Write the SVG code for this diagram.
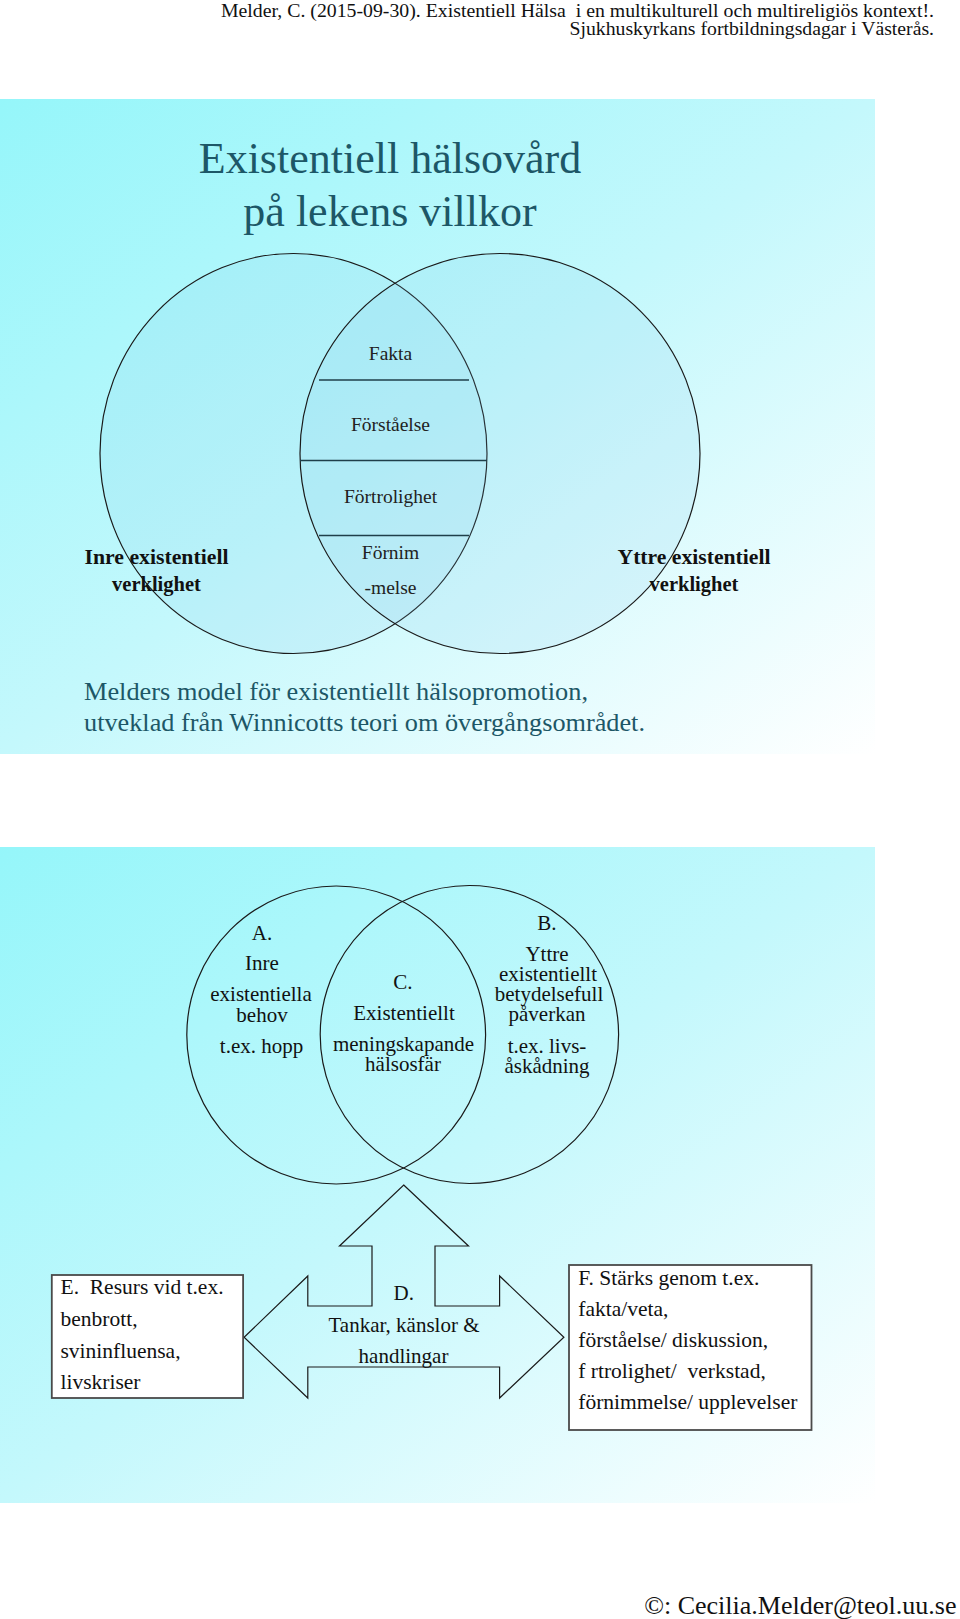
<svg xmlns="http://www.w3.org/2000/svg" width="960" height="1619" viewBox="0 0 960 1619">
  <defs>
    <linearGradient id="bg" x1="0" y1="0" x2="1" y2="1">
      <stop offset="0" stop-color="#95F6FA"/>
      <stop offset="0.5" stop-color="#C4F8FC"/>
      <stop offset="1" stop-color="#FFFFFF"/>
    </linearGradient>
    <style>
      .serif { font-family: "Liberation Serif", "Times New Roman", serif; }
      .hdr { font-size: 18px; fill: #111; white-space: pre; }
      .title { font-size: 44px; fill: #1D5767; text-anchor: middle; }
      .cap { font-size: 26px; fill: #1D5767; }
      .lens { font-size: 19.5px; fill: #222; text-anchor: middle; }
      .side { font-size: 20.5px; font-weight: bold; fill: #111; text-anchor: middle; }
      .venn { fill: #7FC4EA; fill-opacity: 0.14; stroke: #1a1a1a; stroke-width: 1.2; }
      .venn2 { fill: none; stroke: #1a1a1a; stroke-width: 1.2; }
      .band { stroke: #1f3f4a; stroke-width: 1.6; }
      .lbl { font-size: 21px; fill: #111; text-anchor: middle; }
      .box { fill: #FFFFFF; stroke: #4a4a4a; stroke-width: 1.8; }
      .boxt { font-size: 21.5px; fill: #111; white-space: pre; }
      .arrow { fill: none; stroke: #1a1a1a; stroke-width: 1.2; stroke-linejoin: miter; }
    </style>
  </defs>

  <rect x="0" y="0" width="960" height="1619" fill="#FFFFFF"/>

  <g id="header" class="serif">
    <text class="hdr" x="221" y="17" textLength="713" lengthAdjust="spacingAndGlyphs">Melder, C. (2015-09-30). Existentiell Hälsa  i en multikulturell och multireligiös kontext!.</text>
    <text class="hdr" x="569.5" y="35" textLength="364.5" lengthAdjust="spacingAndGlyphs">Sjukhuskyrkans fortbildningsdagar i Västerås.</text>
  </g>

  <!-- Panel 1 -->
  <rect id="panel1" x="0" y="99" width="875" height="655" fill="url(#bg)"/>

  <g id="title" class="serif">
    <text class="title" x="390" y="173">Existentiell hälsovård</text>
    <text class="title" x="390" y="226">på lekens villkor</text>
  </g>

  <g id="venn1">
    <ellipse id="inre-circle" class="venn" cx="293.5" cy="453.5" rx="193.5" ry="200"/>
    <ellipse id="yttre-circle" class="venn" cx="500" cy="453.5" rx="200" ry="200"/>
  </g>

  <g id="lens-bands">
    <line class="band" x1="319" y1="380" x2="469" y2="380"/>
    <line class="band" x1="300" y1="460.5" x2="487" y2="460.5"/>
    <line class="band" x1="319" y1="535.5" x2="469" y2="535.5"/>
  </g>

  <g id="lens-fakta" class="serif"><text class="lens" x="390.5" y="359.5">Fakta</text></g>
  <g id="lens-forstaelse" class="serif"><text class="lens" x="390.5" y="431">Förståelse</text></g>
  <g id="lens-fortrolighet" class="serif"><text class="lens" x="390.5" y="503">Förtrolighet</text></g>
  <g id="lens-fornimmelse" class="serif">
    <text class="lens" x="390.5" y="558.5">Förnim</text>
    <text class="lens" x="390.5" y="594">-melse</text>
  </g>

  <g id="label-inre" class="serif">
    <text class="side" x="156.5" y="563.5" textLength="144" lengthAdjust="spacingAndGlyphs">Inre existentiell</text>
    <text class="side" x="156.5" y="590.5">verklighet</text>
  </g>
  <g id="label-yttre" class="serif">
    <text class="side" x="694" y="563.5" textLength="153" lengthAdjust="spacingAndGlyphs">Yttre existentiell</text>
    <text class="side" x="694" y="590.5">verklighet</text>
  </g>

  <g id="caption" class="serif">
    <text class="cap" x="84" y="700" textLength="504" lengthAdjust="spacingAndGlyphs">Melders model för existentiellt hälsopromotion,</text>
    <text class="cap" x="84" y="731" textLength="561" lengthAdjust="spacingAndGlyphs">utveklad från Winnicotts teori om övergångsområdet.</text>
  </g>

  <!-- Panel 2 -->
  <rect id="panel2" x="0" y="847" width="875" height="656" fill="url(#bg)"/>

  <g id="venn2">
    <ellipse id="circle-a" class="venn2" cx="336.2" cy="1035" rx="149.4" ry="149"/>
    <ellipse id="circle-b" class="venn2" cx="469.4" cy="1034.5" rx="149.2" ry="149"/>
  </g>

  <g id="node-a" class="serif">
    <text class="lbl" x="262" y="939.5">A.</text>
    <text class="lbl" x="262" y="970">Inre</text>
    <text class="lbl" x="261" y="1001">existentiella</text>
    <text class="lbl" x="262" y="1021.5">behov</text>
    <text class="lbl" x="261.5" y="1052.5">t.ex. hopp</text>
  </g>

  <g id="node-c" class="serif">
    <text class="lbl" x="403" y="988.5">C.</text>
    <text class="lbl" x="404" y="1019.5">Existentiellt</text>
    <text class="lbl" x="403.5" y="1051">meningskapande</text>
    <text class="lbl" x="403" y="1070.5">hälsosfär</text>
  </g>

  <g id="node-b" class="serif">
    <text class="lbl" x="547" y="930">B.</text>
    <text class="lbl" x="547" y="961">Yttre</text>
    <text class="lbl" x="548" y="981">existentiellt</text>
    <text class="lbl" x="549" y="1001">betydelsefull</text>
    <text class="lbl" x="547" y="1020.5">påverkan</text>
    <text class="lbl" x="547" y="1052.5">t.ex. livs-</text>
    <text class="lbl" x="547" y="1072.5">åskådning</text>
  </g>

  <g id="connectors">
    <polygon id="arrow-d" class="arrow" points="403.7,1185 468.5,1246 435,1246 435,1306 499.6,1306 499.6,1276 563.9,1337.3 499.6,1398 499.6,1367 307.8,1367 307.8,1398 244.1,1337.3 307.8,1276 307.8,1306 372,1306 372,1246 339.5,1246"/>
  </g>

  <g id="node-d" class="serif">
    <text class="lbl" x="403.7" y="1300">D.</text>
    <text class="lbl" x="404" y="1331.5">Tankar, känslor &amp;</text>
    <text class="lbl" x="403.5" y="1362.5">handlingar</text>
  </g>

  <g id="node-e" class="serif">
    <rect class="box" x="51.8" y="1275" width="191.3" height="123"/>
    <text class="boxt" x="60.5" y="1294">E.  Resurs vid t.ex.</text>
    <text class="boxt" x="60.5" y="1326">benbrott,</text>
    <text class="boxt" x="60.5" y="1357.5">svininfluensa,</text>
    <text class="boxt" x="60.5" y="1389">livskriser</text>
  </g>

  <g id="node-f" class="serif">
    <rect class="box" x="569" y="1265" width="242.5" height="165"/>
    <text class="boxt" x="578.3" y="1285">F. Stärks genom t.ex.</text>
    <text class="boxt" x="578.3" y="1315.7">fakta/veta,</text>
    <text class="boxt" x="578.3" y="1346.7">förståelse/ diskussion,</text>
    <text class="boxt" x="578.3" y="1377.7">f rtrolighet/  verkstad,</text>
    <text class="boxt" x="578.3" y="1409.3">förnimmelse/ upplevelser</text>
  </g>

  <g id="footer" class="serif">
    <text x="956.5" y="1614" text-anchor="end" font-size="26" fill="#111">©: Cecilia.Melder@teol.uu.se</text>
  </g>
</svg>
